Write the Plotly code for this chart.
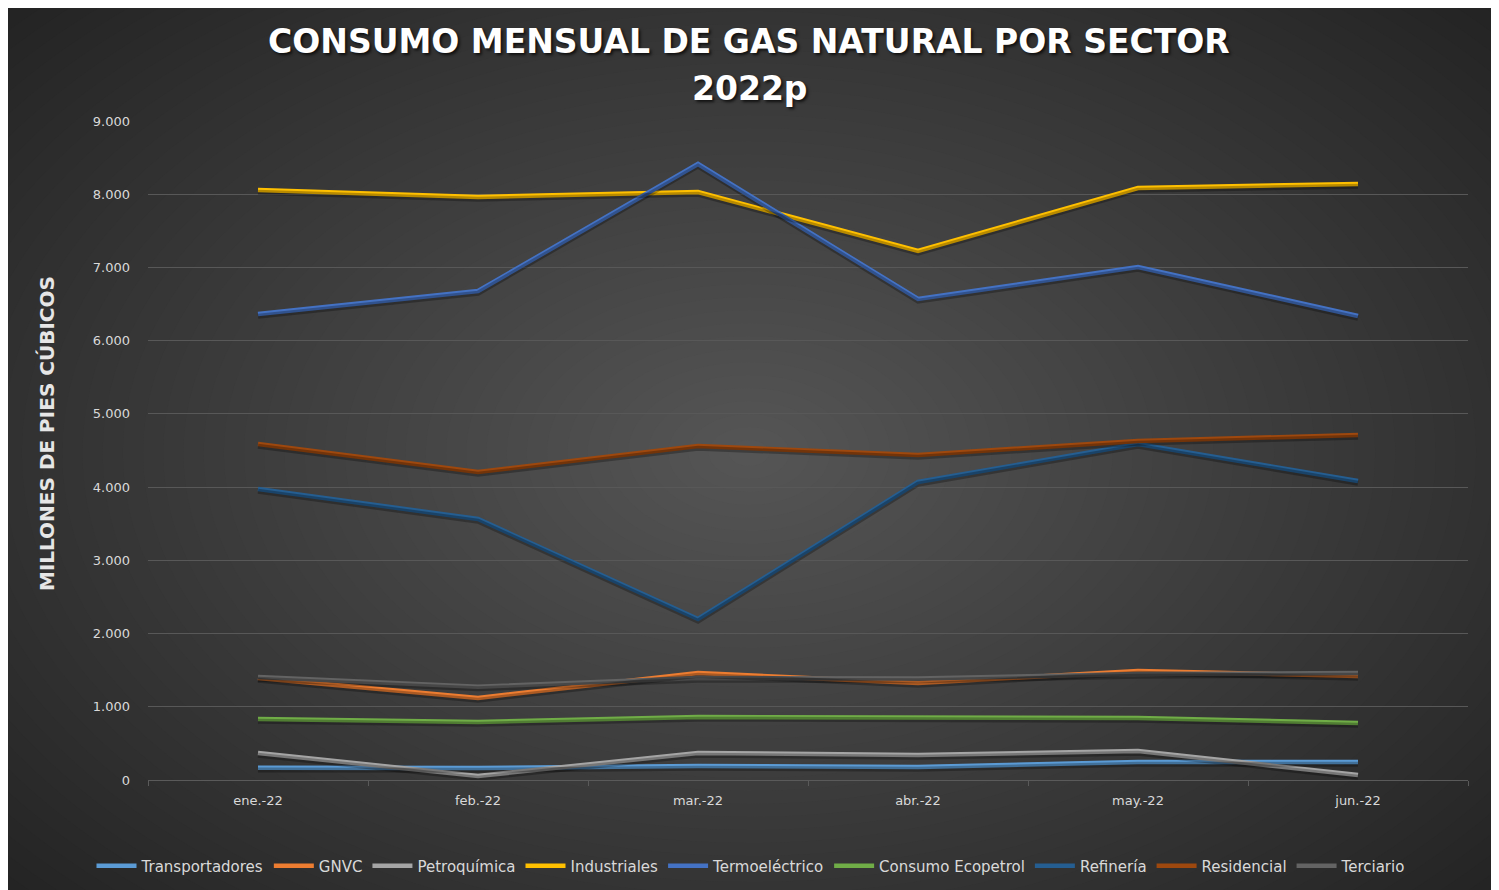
import plotly.graph_objects as go

meses = ["ene.-22", "feb.-22", "mar.-22", "abr.-22", "may.-22", "jun.-22"]

transportadores = [168, 164, 191, 178, 246, 246]
gnvc = [1393, 1120, 1461, 1325, 1489, 1420]
petroquimica = [369, 55, 369, 341, 396, 68]
industriales = [8058, 7962, 8030, 7225, 8085, 8140]
termoelectrico = [6364, 6678, 8413, 6569, 7006, 6337]
ecopetrol = [833, 792, 860, 860, 847, 778]
refineria = [3974, 3565, 2199, 4070, 4589, 4084]
residencial = [4589, 4206, 4561, 4439, 4630, 4712]
terciario = [1407, 1275, 1393, 1385, 1448, 1461]

series = [
    ("Transportadores", transportadores, "#5B9BD5"),
    ("GNVC", gnvc, "#ED7D31"),
    ("Petroquímica", petroquimica, "#A5A5A5"),
    ("Industriales", industriales, "#FFC000"),
    ("Termoeléctrico", termoelectrico, "#4472C4"),
    ("Consumo Ecopetrol", ecopetrol, "#70AD47"),
    ("Refinería", refineria, "#255E91"),
    ("Residencial", residencial, "#9E480E"),
    ("Terciario", terciario, "#636363"),
]

# figure sits in the page with the 8px body margin
W, H = 1483, 882
L, R, T, B = 140, 1460, 113, 772


def px_x(p):
    return (p - L) / (R - L)


def px_y(p):
    return (B - p) / (B - T)


fig = go.Figure()

# soft drop shadow under each line (same data on a slightly shifted axis)
for name, vals, color in series:
    fig.add_trace(go.Scatter(x=meses, y=vals, mode="lines", yaxis="y2",
                             line=dict(color="rgba(0,0,0,0.28)", width=5),
                             showlegend=False, hoverinfo="skip"))

for name, vals, color in series:
    fig.add_trace(go.Scatter(x=meses, y=vals, mode="lines", name=name,
                             line=dict(color=color, width=4.5)))

# radial background gradient
shapes = []
cx, cy = 741, 445
rx_max, ry_max = 1010, 650
n = 50
c_out, c_in = 36, 86
for i in range(n):
    t = 1 - i / n
    c = round(c_in + (c_out - c_in) * t)
    shapes.append(dict(type="circle", xref="paper", yref="paper", layer="below",
                       x0=px_x(cx - rx_max * t), x1=px_x(cx + rx_max * t),
                       y0=px_y(cy + ry_max * t), y1=px_y(cy - ry_max * t),
                       fillcolor=f"rgb({c},{c},{c})", line_width=0))

tick_font = dict(family="DejaVu Sans", size=13, color="#D9D9D9")
title_font = dict(family="DejaVu Sans", size=33, color="white", weight="bold",
                  shadow="2px 2px 3px rgba(0,0,0,0.7)")

fig.update_layout(
    width=W, height=H,
    margin=dict(l=L, r=W - R, t=T, b=H - B),
    paper_bgcolor="#242424",
    plot_bgcolor="rgba(0,0,0,0)",
    separators=",.",
    shapes=shapes,
    xaxis=dict(
        type="category", range=[-0.5, 5.5],
        showgrid=False, showline=True, linecolor="#5A5A5A", linewidth=1,
        ticks="outside", tickson="boundaries", ticklen=5, tickcolor="#5A5A5A",
        tickfont=tick_font, ticklabelstandoff=8,
    ),
    yaxis=dict(
        range=[0, 9000], dtick=1000, tickformat=",d",
        showgrid=True, gridcolor="#585858", gridwidth=1,
        zeroline=False, showline=False, ticks="",
        tickfont=tick_font, ticklabelstandoff=17,
    ),
    yaxis2=dict(overlaying="y", range=[30, 9030], visible=False),
    legend=dict(
        orientation="h", xref="container", x=743 / W, xanchor="center",
        yref="container", y=1 - 858 / H, yanchor="middle",
        font=dict(family="DejaVu Sans", size=15, color="#D9D9D9"),
        bgcolor="rgba(0,0,0,0)", itemwidth=40,
    ),
    annotations=[
        dict(text="CONSUMO MENSUAL DE GAS NATURAL POR SECTOR",
             xref="paper", yref="paper", x=px_x(741), y=px_y(34),
             xanchor="center", yanchor="middle", showarrow=False, font=title_font),
        dict(text="2022p",
             xref="paper", yref="paper", x=px_x(741), y=px_y(80),
             xanchor="center", yanchor="middle", showarrow=False, font=title_font),
        dict(text="<b>MILLONES DE PIES CÚBICOS</b>", textangle=-90,
             xref="paper", yref="paper", x=px_x(39), y=px_y(426),
             xanchor="center", yanchor="middle", showarrow=False,
             font=dict(family="DejaVu Sans", size=20, color="#E6E6E6")),
    ],
)

fig.write_html("out.html")
